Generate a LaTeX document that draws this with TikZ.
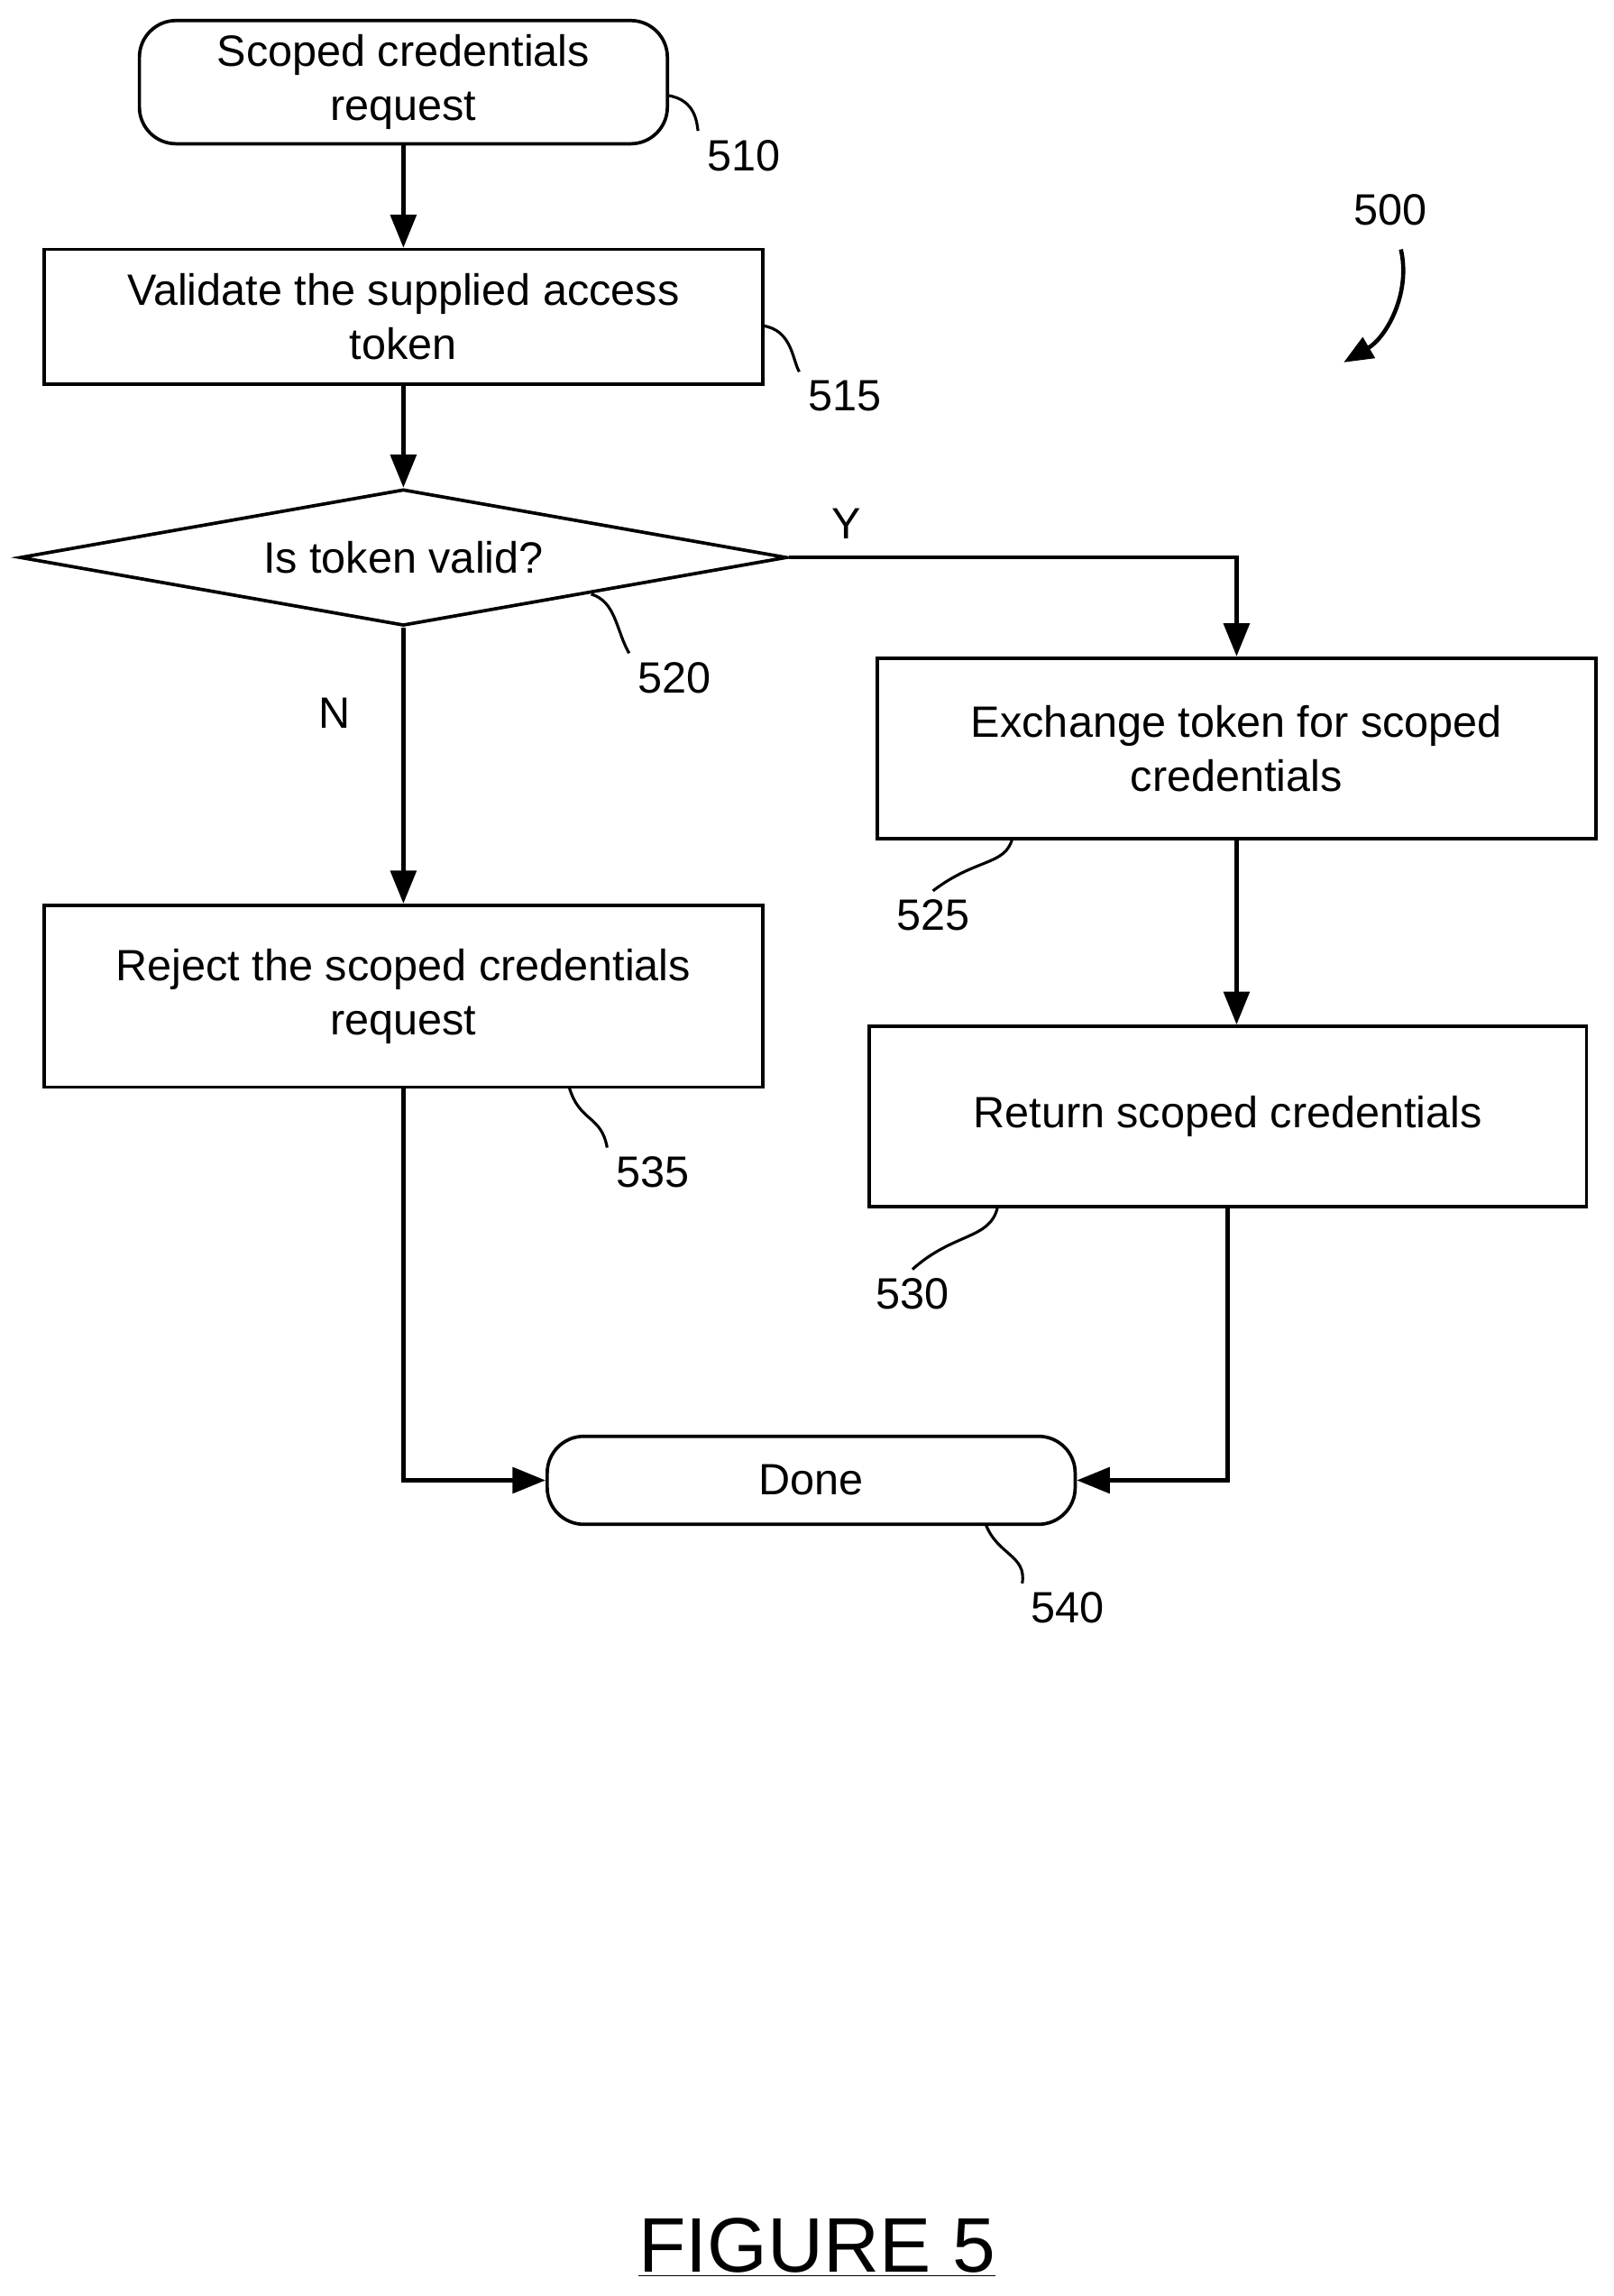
\documentclass[tikz,border=0pt]{standalone}
\usepackage{fontspec}
\setmainfont{Liberation Sans}
\usetikzlibrary{shapes.geometric,arrows.meta}
\begin{document}
\begin{tikzpicture}[x=0.02cm,y=-0.02cm,
  every node/.style={font=\fontsize{17}{21}\selectfont},
  box/.style={draw,line width=1.3pt,rectangle,align=center,inner sep=0pt},
  term/.style={draw,line width=1.3pt,rectangle,rounded corners=0.5cm,align=center,inner sep=0pt},
  ln/.style={line width=1.6pt},
  arr/.style={line width=1.6pt,-{Triangle[length=0.45cm,width=0.35cm]}},
  lead/.style={line width=1.1pt},
  lab/.style={font=\fontsize{17}{21}\selectfont}]
\useasboundingbox (0,0) rectangle (1100,1565);
\node[term,minimum width=7.2cm,minimum height=1.68cm] (s510) at (275,56) {Scoped credentials\\request};
\node[box,minimum width=9.8cm,minimum height=1.84cm] (s515) at (275,216) {Validate the supplied access\\token};
\node[diamond,draw,line width=1.3pt,aspect=5.6,minimum width=10.46cm,minimum height=1.86cm,inner sep=0pt] (s520) at (275,380) {};
\node at (275,380) {Is token valid?};
\node[box,minimum width=9.8cm,minimum height=2.46cm] (s525) at (843,510) {Exchange token for scoped\\credentials};
\node[box,minimum width=9.78cm,minimum height=2.46cm] (s530) at (837,761) {Return scoped credentials};
\node[box,minimum width=9.8cm,minimum height=2.48cm] (s535) at (275,679) {Reject the scoped credentials\\request};
\node[term,minimum width=7.2cm,minimum height=1.2cm] (s540) at (553,1009) {Done};
\coordinate (c500a) at (955,170);
\coordinate (c500b) at (916,247);
\node[lab] (l510) at (507,106) {510};
\node[lab] (l515) at (576,270) {515};
\node[lab] (l520) at (460,462) {520};
\node[lab] (l525) at (636,624) {525};
\node[lab] (l530) at (622,882) {530};
\node[lab] (l535) at (445,799) {535};
\node[lab] (l540) at (728,1096) {540};
\node[lab] (l500) at (948,143) {500};
\node[lab] (ly) at (577,357) {Y};
\node[lab] (ln) at (228,486) {N};
\node[font=\fontsize{30}{36}\selectfont] (fig) at (557,1532) {\underline{FIGURE 5}};
\draw[arr] (s510) -- (s515);
\draw[arr] (s515) -- (s520.north);
\draw[arr] (s520.east) -| (s525.north);
\draw[arr] (s520.south) -- (s535.north);
\draw[arr] (s525.south) -- (s525.south |- s530.north);
\draw[arr] (s535.south) |- (s540.west);
\draw[arr] (s530.south) |- (s540.east);
\draw[line width=1.6pt,-{Triangle[length=0.4cm,width=0.32cm]}] (c500a) .. controls (962,200) and (945,230) .. (c500b);
\draw[lead] (455,65) .. controls (475,68) and (475,85) .. (l510.north west);
\draw[lead] (520,222) .. controls (540,225) and (540,245) .. (l515.north west);
\draw[lead] (403,405) .. controls (420,410) and (420,430) .. (l520.north west);
\draw[lead] (690,572) .. controls (685,590) and (665,585) .. (l525.north);
\draw[lead] (680,823) .. controls (675,845) and (650,840) .. (l530.north);
\draw[lead] (388,741) .. controls (395,765) and (410,760) .. (l535.north west);
\draw[lead] (672,1039) .. controls (680,1060) and (700,1060) .. (l540.north west);
\end{tikzpicture}
\end{document}
